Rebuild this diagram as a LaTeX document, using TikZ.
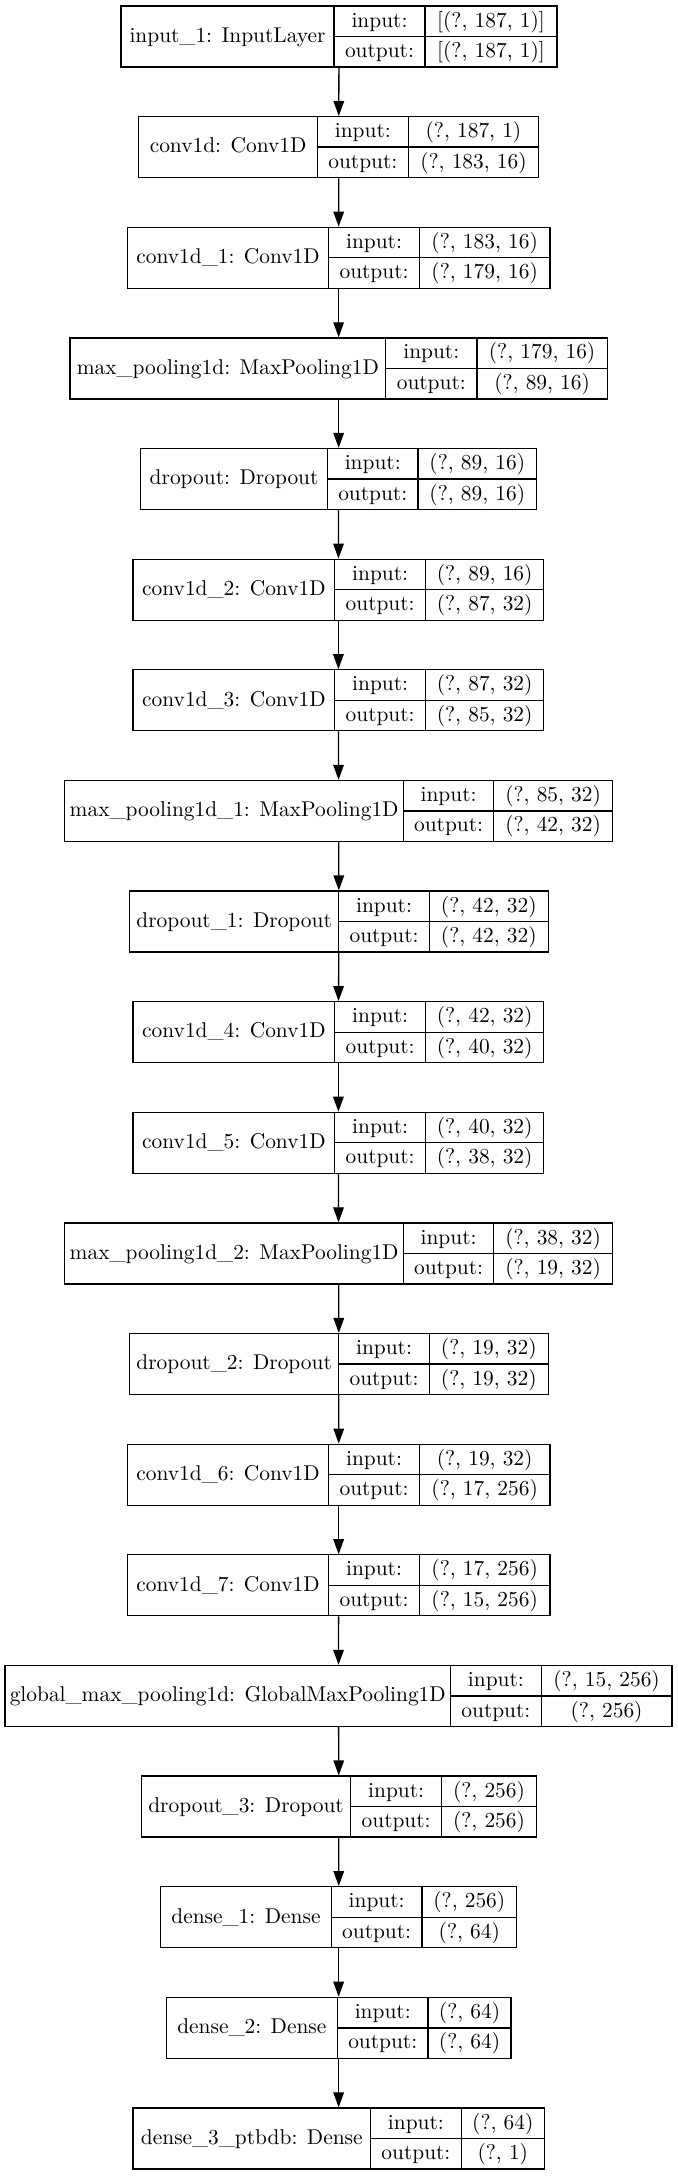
\documentclass[tikz,border=0pt]{standalone}
\usetikzlibrary{arrows.meta}

\newcommand{\layerrow}[9]{%
  \pgfmathsetmacro{\rowtop}{6+110.63*#2}%
  \pgfmathsetmacro{\rowbot}{\rowtop+61}%
  \pgfmathsetmacro{\rowmid}{\rowtop+30.5}%
  \node[layer, minimum width={(#6-#3)*0.5pt}] (#1) at ({(#3+#6)/2},\rowmid) {};
  \draw[cellline] (#4,\rowtop) -- (#4,\rowbot) (#5,\rowtop) -- (#5,\rowbot) (#4,\rowmid) -- (#6,\rowmid);
  \node[txt] (#1-n) at ({(#3+#4)/2},\rowmid+5.8) {#7};
  \node[txt] (#1-ik) at ({(#4+#5)/2},\rowtop+21.05) {input:};
  \node[txt] (#1-iv) at ({(#5+#6)/2},\rowtop+21.05) {#8};
  \node[txt] (#1-ok) at ({(#4+#5)/2},\rowbot-9.45) {output:};
  \node[txt] (#1-ov) at ({(#5+#6)/2},\rowbot-9.45) {#9};
}

\begin{document}
\begin{tikzpicture}[x=0.5pt,y=-0.5pt,
    font=\fontsize{10.7}{12}\selectfont,
    layer/.style={draw, rectangle, inner sep=0pt, minimum height=30.5pt, line width=0.65pt},
    cellline/.style={line width=0.65pt},
    txt/.style={anchor=base, inner sep=0pt},
    arr/.style={-{Triangle[length=7.5pt,width=5.3pt]}, line width=0.65pt}]
      \useasboundingbox (0,0) rectangle (677,2176);
      \layerrow{0}{0}{121}{334}{425}{557}{input\_1: InputLayer}{[(?, 187, 1)]}{[(?, 187, 1)]}
      \layerrow{1}{1}{138.7}{317.5}{408.2}{538.7}{conv1d: Conv1D}{(?, 187, 1)}{(?, 183, 16)}
      \layerrow{2}{2}{127.4}{328.7}{419.4}{549.9}{conv1d\_1: Conv1D}{(?, 183, 16)}{(?, 179, 16)}
      \layerrow{3}{3}{70}{385.7}{476.9}{607.3}{max\_pooling1d: MaxPooling1D}{(?, 179, 16)}{(?, 89, 16)}
      \layerrow{4}{4}{140.8}{327.4}{418.1}{536.5}{dropout: Dropout}{(?, 89, 16)}{(?, 89, 16)}
      \layerrow{5}{5}{133}{334.8}{425.5}{543.8}{conv1d\_2: Conv1D}{(?, 89, 16)}{(?, 87, 32)}
      \layerrow{6}{6}{133}{334.8}{425.5}{543.8}{conv1d\_3: Conv1D}{(?, 87, 32)}{(?, 85, 32)}
      \layerrow{7}{7}{64.8}{403.5}{493.7}{612.5}{max\_pooling1d\_1: MaxPooling1D}{(?, 85, 32)}{(?, 42, 32)}
      \layerrow{8}{8}{129.6}{338.7}{429.4}{548.2}{dropout\_1: Dropout}{(?, 42, 32)}{(?, 42, 32)}
      \layerrow{9}{9}{133}{334.8}{425.5}{543.8}{conv1d\_4: Conv1D}{(?, 42, 32)}{(?, 40, 32)}
      \layerrow{10}{10}{133}{334.8}{425.5}{543.8}{conv1d\_5: Conv1D}{(?, 40, 32)}{(?, 38, 32)}
      \layerrow{11}{11}{64.8}{403.5}{493.7}{612.5}{max\_pooling1d\_2: MaxPooling1D}{(?, 38, 32)}{(?, 19, 32)}
      \layerrow{12}{12}{129.6}{338.7}{429.4}{548.2}{dropout\_2: Dropout}{(?, 19, 32)}{(?, 19, 32)}
      \layerrow{13}{13}{127.4}{328.7}{419.4}{549.9}{conv1d\_6: Conv1D}{(?, 19, 32)}{(?, 17, 256)}
      \layerrow{14}{14}{127.4}{328.7}{419.4}{549.9}{conv1d\_7: Conv1D}{(?, 17, 256)}{(?, 15, 256)}
      \layerrow{15}{15}{5}{450.6}{541.2}{672}{global\_max\_pooling1d: GlobalMaxPooling1D}{(?, 15, 256)}{(?, 256)}
      \layerrow{16}{16}{141.3}{350.8}{441.5}{536.5}{dropout\_3: Dropout}{(?, 256)}{(?, 256)}
      \layerrow{17}{17}{160.7}{331.3}{422}{516.6}{dense\_1: Dense}{(?, 256)}{(?, 64)}
      \layerrow{18}{18}{166.3}{337.4}{428.1}{511}{dense\_2: Dense}{(?, 64)}{(?, 64)}
      \layerrow{19}{19}{133}{370.6}{461.3}{544.3}{dense\_3\_ptbdb: Dense}{(?, 64)}{(?, 1)}
      \begin{scope}[arr]
        \draw (0) to (1);
        \draw (1) to (2);
        \draw (2) to (3);
        \draw (3) to (4);
        \draw (4) to (5);
        \draw (5) to (6);
        \draw (6) to (7);
        \draw (7) to (8);
        \draw (8) to (9);
        \draw (9) to (10);
        \draw (10) to (11);
        \draw (11) to (12);
        \draw (12) to (13);
        \draw (13) to (14);
        \draw (14) to (15);
        \draw (15) to (16);
        \draw (16) to (17);
        \draw (17) to (18);
        \draw (18) to (19);
      \end{scope}
    \end{tikzpicture}
\end{document}
